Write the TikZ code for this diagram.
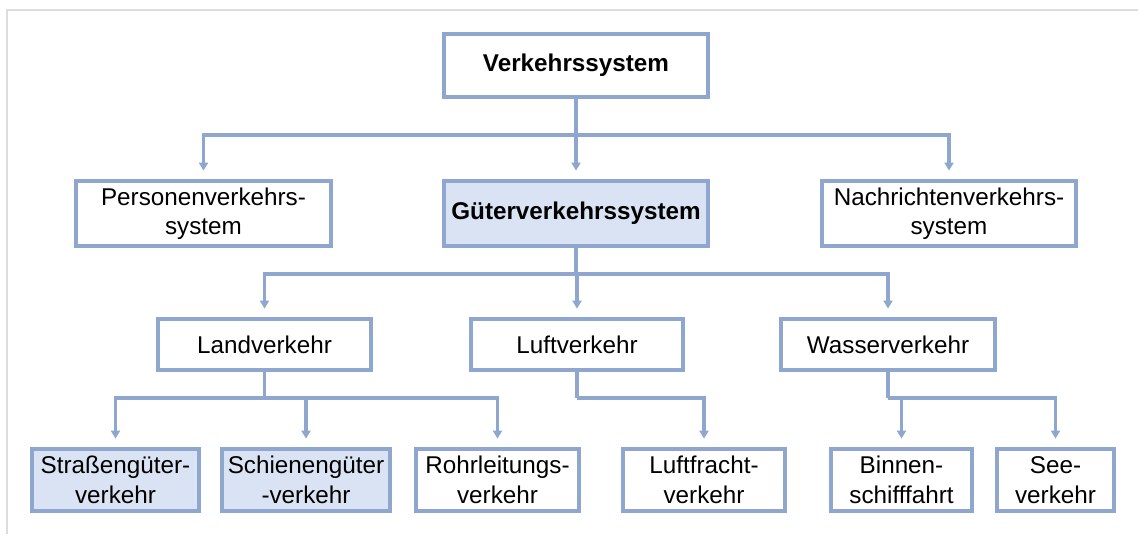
\documentclass[tikz,border=0pt]{standalone}
\usepackage{fontspec}
\setmainfont{Liberation Sans}
\usepackage{tikz}
\usetikzlibrary{arrows.meta, positioning}
\definecolor{boxblue}{RGB}{143, 167, 207}
\definecolor{fillblue}{RGB}{218, 227, 243}
\definecolor{framegray}{RGB}{220, 220, 220}

\begin{document}
\begin{tikzpicture}[font=\fontsize{13.8}{16.8}\selectfont,
      b/.style={draw=boxblue, line width=0.075cm, align=center, inner sep=2pt},
      hl/.style={fill=fillblue},
      ln/.style={draw=boxblue, line width=0.065cm},
      arr/.style={ln, -{Triangle[length=0.16cm, width=0.18cm]}, shorten >=0.17cm}]
    \useasboundingbox (0, 0) rectangle (22.76, 10.68);
    % frame
    \draw[framegray, line width=0.045cm] (0.14, 0) -- (0.14, 10.48) -- (22.76, 10.48);
    % level 1 and 2
    \node[b, minimum width=5.28cm, minimum height=1.26cm, font=\fontsize{13.8}{16.8}\selectfont\bfseries] (vs) at (11.52, 9.37) {Verkehrssystem};
    \node[b, minimum width=5.10cm, minimum height=1.30cm] (ps) at (4.07, 6.41) {Personenverkehrs-\\system};
    \node[b, hl, minimum width=5.28cm, minimum height=1.30cm, font=\fontsize{13.8}{16.8}\selectfont\bfseries] (gs) at (11.52, 6.41) {Güterverkehrssystem};
    \node[b, minimum width=5.08cm, minimum height=1.30cm] (ns) at (18.98, 6.41) {Nachrichtenverkehrs-\\system};
    % level 3
    \node[b, minimum width=4.26cm, minimum height=1.02cm] (lv) at (5.29, 3.79) {Landverkehr};
    \node[b, minimum width=4.24cm, minimum height=1.02cm] (lu) at (11.54, 3.79) {Luftverkehr};
    \node[b, minimum width=4.28cm, minimum height=1.02cm] (wv) at (17.76, 3.79) {Wasserverkehr};
    % level 4
    \node[b, hl, minimum width=3.34cm, minimum height=1.24cm] (st) at (2.31, 1.08) {Straßengüter-\\verkehr};
    \node[b, hl, minimum width=3.36cm, minimum height=1.24cm] (sc) at (6.12, 1.08) {Schienengüter\\-verkehr};
    \node[b, minimum width=3.26cm, minimum height=1.24cm] (ro) at (9.95, 1.08) {Rohrleitungs-\\verkehr};
    \node[b, minimum width=3.24cm, minimum height=1.24cm] (lf) at (14.08, 1.08) {Luftfracht-\\verkehr};
    \node[b, minimum width=2.82cm, minimum height=1.24cm] (bs) at (18.03, 1.08) {Binnen-\\schifffahrt};
    \node[b, minimum width=2.34cm, minimum height=1.24cm] (se) at (21.11, 1.08) {See-\\verkehr};
    % junctions
    \coordinate (j1) at (11.52, 7.98);
    \coordinate (j2) at (11.52, 5.20);
    \coordinate (j3) at (5.29, 2.72);
    \coordinate (j4) at (11.54, 2.72);
    \coordinate (j5) at (17.76, 2.72);
    % connectors
    \draw[ln] (vs) -- (j1);
    \draw[arr] (j1) -| (ps);
    \draw[arr] (j1) -- (gs);
    \draw[arr] (j1) -| (ns);
    \draw[ln] (gs) -- (j2);
    \draw[arr] (j2) -| (lv);
    \draw[arr] (j2) -| (lu);
    \draw[arr] (j2) -| (wv);
    \draw[ln] (lv) -- (j3);
    \draw[arr] (j3) -| (st);
    \draw[arr] (j3) -| (sc);
    \draw[arr] (j3) -| (ro);
    \draw[ln] (lu) -- (j4);
    \draw[arr] (j4) -| (lf);
    \draw[ln] (wv) -- (j5);
    \draw[arr] (j5) -| (bs);
    \draw[arr] (j5) -| (se);
  \end{tikzpicture}
\end{document}
